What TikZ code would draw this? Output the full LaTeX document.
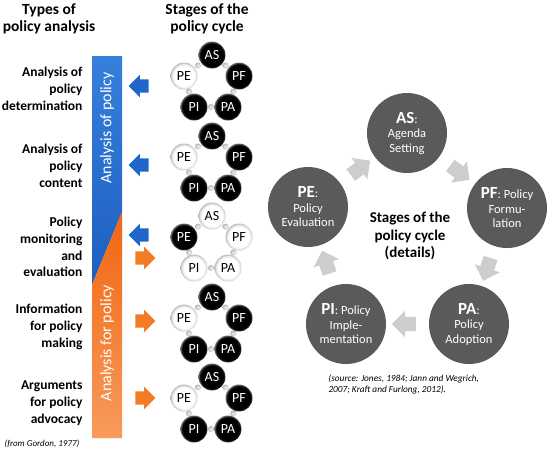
\documentclass[tikz,border=0pt]{standalone}
\usepackage{fontspec}
\setmainfont{Carlito}
\usetikzlibrary{shapes.arrows,calc}
\definecolor{barblueA}{HTML}{3580DC}
\definecolor{barblueB}{HTML}{1E5EC0}
\definecolor{barorA}{HTML}{F06610}
\definecolor{barorB}{HTML}{F89A5C}
\definecolor{arrblue}{HTML}{1F68CA}
\definecolor{arror}{HTML}{F47B25}
\definecolor{cgrey}{HTML}{5A5A5A}
\definecolor{agrey}{HTML}{CDCDCD}
\newcommand\biglab{\fontsize{17}{17}\selectfont\bfseries}
\pgfdeclareradialshading{wball}{\pgfpoint{0bp}{0bp}}{color(0bp)=(white); color(19bp)=(white); color(23bp)=(black!12); color(25bp)=(black!28); color(50bp)=(black!28)}
\pgfdeclareradialshading{bball}{\pgfpoint{0bp}{0bp}}{color(0bp)=(black); color(21bp)=(black); color(23.5bp)=(black!85); color(25bp)=(black!50); color(50bp)=(black!50)}
\pgfdeclareradialshading{gdot}{\pgfpoint{0bp}{0bp}}{color(0bp)=(black!6); color(15bp)=(black!16); color(25bp)=(black!30); color(50bp)=(black!30)}
\begin{document}
\begin{tikzpicture}[x=1pt,y=-1pt,
  header/.style={font=\fontsize{15.5}{17.5}\selectfont\bfseries, align=center},
  lefttext/.style={font=\fontsize{13.5}{16.8}\selectfont\bfseries, align=right, anchor=east},
  bartext/.style={font=\fontsize{16}{16}\selectfont, text=white, rotate=90},
  smallc/.style={circle, minimum size=27, inner sep=0, font=\fontsize{14}{14}\selectfont},
  bb/.style={smallc, shading=bball, text=white},
  wb/.style={smallc, shading=wball, text=black},
  dotc/.style={circle, minimum size=6, inner sep=0, shading=gdot},
  sarrow/.style={single arrow, minimum height=20, inner xsep=0, inner ysep=6.5, single arrow head extend=4.5},
  larrow/.style={sarrow, shape border rotate=180, fill=arrblue},
  rarrow/.style={sarrow, fill=arror},
  bigc/.style={circle, fill=cgrey, minimum size=80, inner sep=0, text=white, align=center, font=\fontsize{12.5}{14.5}\selectfont},
  garrow/.style={single arrow, fill=agrey, minimum height=24, inner xsep=0, inner ysep=7, single arrow head extend=6, sloped, allow upside down}
]
\useasboundingbox (0,0) rectangle (550,451);

% headers
\node[header] (h1) at (49,19) {Types of\\policy analysis};
\node[header] (h2) at (207,19) {Stages of the\\policy cycle};

% bar
\shade[top color=barblueA, bottom color=barblueB] (92,56) -- (122,56) -- (122,212) -- (92,285) -- cycle;
\shade[top color=barorA, bottom color=barorB] (92,285) -- (122,212) -- (122,438) -- (92,438) -- cycle;
\node[bartext] (b1) at (107,128) {Analysis of policy};
\node[bartext] (b2) at (107,343) {Analysis for policy};

% left texts
\node[lefttext] (t1) at (86,89) {Analysis of\\policy\\determination};
\node[lefttext] (t2) at (86,166) {Analysis of\\policy\\content};
\node[lefttext] (t3) at (86,247) {Policy\\monitoring\\and\\evaluation};
\node[lefttext] (t4) at (86,327) {Information\\for policy\\making};
\node[lefttext] (t5) at (86,403) {Arguments\\for policy\\advocacy};

% arrows
\node[larrow] (a1) at (142,86) {};
\node[larrow] (a2) at (142,165) {};
\node[larrow] (a3) at (142,235) {};
\node[rarrow] (a4) at (142,258) {};
\node[rarrow] (a5) at (142,321) {};
\node[rarrow] (a6) at (142,398) {};

% small cycles
\foreach \k/\dy/\pe/\rs in {1/0/wb/bb, 2/81/wb/bb, 3/161/bb/wb, 4/242/wb/bb, 5/322/wb/bb}{
  \node[\rs] (AS\k) at (212,55+\dy) {AS};
  \node[\rs] (PF\k) at (239,76+\dy) {PF};
  \node[\rs] (PA\k) at (228,107+\dy) {PA};
  \node[\rs] (PI\k) at (194,107+\dy) {PI};
  \node[\pe] (PE\k) at (184,76+\dy) {PE};
  \path (AS\k) -- (PF\k) node[midway, dotc] {};
  \path (PF\k) -- (PA\k) node[midway, dotc] {};
  \path (PA\k) -- (PI\k) node[midway, dotc] {};
  \path (PI\k) -- (PE\k) node[midway, dotc] {};
  \path (PE\k) -- (AS\k) node[midway, dotc] {};
}

% big cycle
\node[bigc] (AS) at (407,133) {{\biglab AS}:\\Agenda\\Setting};
\node[bigc] (PF) at (507,208) {{\biglab PF}: Policy\\Formu-\\lation};
\node[bigc] (PA) at (469,324) {{\biglab PA}:\\Policy\\Adoption};
\node[bigc] (PI) at (346,324) {{\biglab PI}: Policy\\Imple-\\mentation};
\node[bigc] (PE) at (308,207) {{\biglab PE}:\\Policy\\Evaluation};
\path (AS) -- (PF) node[midway, garrow] {};
\path (PF) -- (PA) node[midway, garrow] {};
\path (PA) -- (PI) node[midway, garrow] {};
\path (PI) -- (PE) node[midway, garrow] {};
\path (PE) -- (AS) node[midway, garrow] {};

\node[header, font=\fontsize{15}{17.5}\selectfont\bfseries] (det) at (410,236) {Stages of the\\policy cycle\\(details)};

\node[anchor=north west, align=left, font=\fontsize{9.3}{11}\selectfont\itshape] (src) at (325,371) {(source: Jones, 1984; Jann and Wegrich,\\2007; Kraft and Furlong, 2012).};
\node[anchor=west, font=\fontsize{9}{11}\selectfont\itshape] (gord) at (1,444) {(from Gordon, 1977)};
\end{tikzpicture}
\end{document}
